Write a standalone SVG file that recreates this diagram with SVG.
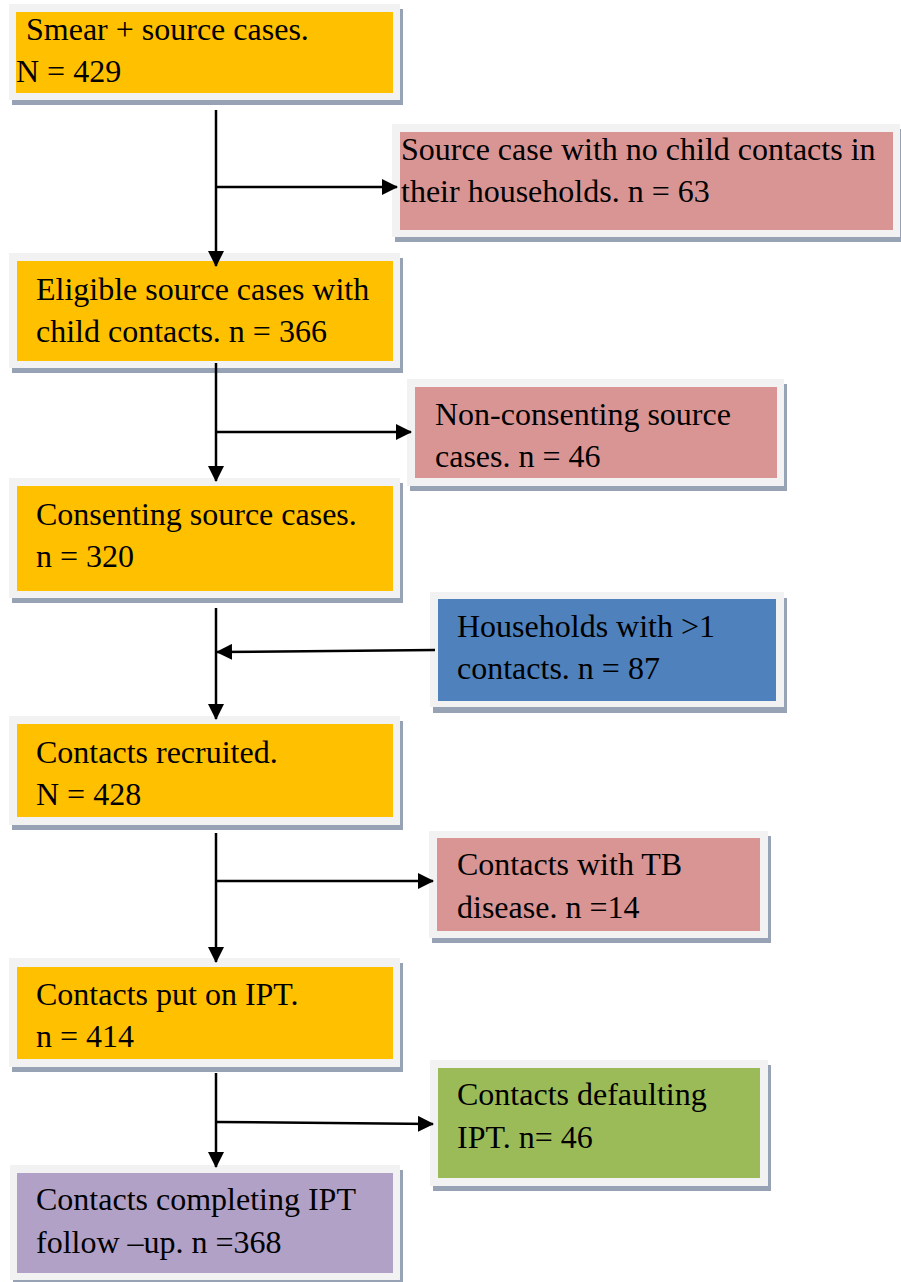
<svg xmlns="http://www.w3.org/2000/svg" width="901" height="1282" viewBox="0 0 901 1282">
<style>
.frame{fill:#f2f2f2}
.shadow{fill:#97a3b4}
.yellow{fill:#ffc000}
.pink{fill:#d99594}
.blue{fill:#4f81bd}
.green{fill:#9bbb59}
.purple{fill:#b2a1c7}
text{font-family:"Liberation Serif","Times New Roman",serif;font-size:32px;fill:#000}
.conn{stroke:#000;stroke-width:2.5;fill:none;marker-end:url(#arr)}
</style>
<defs>
<marker id="arr" markerUnits="userSpaceOnUse" markerWidth="16" markerHeight="16" refX="15" refY="8" orient="auto">
<path d="M0,0 L16,8 L0,16 z" fill="#000"/>
</marker>
</defs>
<rect width="901" height="1282" fill="#fff"/>
<g id="smear">
<rect class="shadow" x="12" y="9" width="391" height="96"/>
<rect class="frame" x="9" y="4" width="391" height="96"/>
<rect class="yellow" x="16" y="12" width="377" height="81"/>
<text x="26" y="40">Smear + source cases.</text>
<text x="16" y="82">N = 429</text>
</g>
<g id="no-child">
<rect class="shadow" x="395" y="129" width="508" height="113"/>
<rect class="frame" x="392" y="124" width="508" height="113"/>
<rect class="pink" x="400" y="132" width="493" height="98"/>
<text x="401" y="160">Source case with no child contacts in</text>
<text x="401" y="202">their households. n = 63</text>
</g>
<g id="eligible">
<rect class="shadow" x="12" y="258" width="391" height="115"/>
<rect class="frame" x="9" y="253" width="391" height="115"/>
<rect class="yellow" x="17" y="261" width="376" height="100"/>
<text x="36" y="300">Eligible source cases with</text>
<text x="36" y="342">child contacts. n = 366</text>
</g>
<g id="non-consenting">
<rect class="shadow" x="410" y="384" width="377" height="107"/>
<rect class="frame" x="407" y="379" width="377" height="107"/>
<rect class="pink" x="415" y="387" width="362" height="91"/>
<text x="435" y="425">Non-consenting source</text>
<text x="435" y="467">cases. n = 46</text>
</g>
<g id="consenting">
<rect class="shadow" x="12" y="483" width="391" height="120"/>
<rect class="frame" x="9" y="478" width="391" height="120"/>
<rect class="yellow" x="17" y="486" width="376" height="105"/>
<text x="36" y="525">Consenting source cases.</text>
<text x="36" y="567">n = 320</text>
</g>
<g id="households">
<rect class="shadow" x="433" y="598" width="354" height="115"/>
<rect class="frame" x="430" y="592" width="354" height="115"/>
<rect class="blue" x="438" y="599" width="338" height="102"/>
<text x="457" y="637">Households with &gt;1</text>
<text x="457" y="679">contacts. n = 87</text>
</g>
<g id="recruited">
<rect class="shadow" x="12" y="721" width="391" height="109"/>
<rect class="frame" x="9" y="716" width="391" height="109"/>
<rect class="yellow" x="17" y="724" width="376" height="93"/>
<text x="36" y="763">Contacts recruited.</text>
<text x="36" y="805">N = 428</text>
</g>
<g id="tb-disease">
<rect class="shadow" x="432" y="836" width="339" height="107"/>
<rect class="frame" x="429" y="831" width="339" height="107"/>
<rect class="pink" x="437" y="838" width="323" height="93"/>
<text x="457" y="875">Contacts with TB</text>
<text x="457" y="918">disease. n =14</text>
</g>
<g id="ipt">
<rect class="shadow" x="12" y="963" width="391" height="109"/>
<rect class="frame" x="9" y="958" width="391" height="109"/>
<rect class="yellow" x="17" y="967" width="376" height="92"/>
<text x="36" y="1005">Contacts put on IPT.</text>
<text x="36" y="1047">n = 414</text>
</g>
<g id="defaulting">
<rect class="shadow" x="433" y="1065" width="338" height="126"/>
<rect class="frame" x="430" y="1060" width="338" height="126"/>
<rect class="green" x="438" y="1068" width="322" height="110"/>
<text x="457" y="1105">Contacts defaulting</text>
<text x="457" y="1148">IPT. n= 46</text>
</g>
<g id="completing">
<rect class="shadow" x="13" y="1170" width="390" height="115"/>
<rect class="frame" x="10" y="1165" width="390" height="115"/>
<rect class="purple" x="17" y="1173" width="376" height="100"/>
<text x="36" y="1210">Contacts completing IPT</text>
<text x="36" y="1253">follow –up. n =368</text>
</g>
<g id="connectors">
<line class="conn" x1="216" y1="110" x2="216" y2="266"/>
<line class="conn" x1="216" y1="187" x2="397" y2="187"/>
<line class="conn" x1="216" y1="363" x2="216" y2="481"/>
<line class="conn" x1="216" y1="432" x2="411" y2="432"/>
<line class="conn" x1="216" y1="608" x2="216" y2="719"/>
<line class="conn" x1="435" y1="650" x2="217" y2="652"/>
<line class="conn" x1="216" y1="833" x2="216" y2="962"/>
<line class="conn" x1="216" y1="881" x2="433" y2="881"/>
<line class="conn" x1="216" y1="1073" x2="216" y2="1167"/>
<line class="conn" x1="216" y1="1122" x2="433" y2="1124"/>
</g>
</svg>
